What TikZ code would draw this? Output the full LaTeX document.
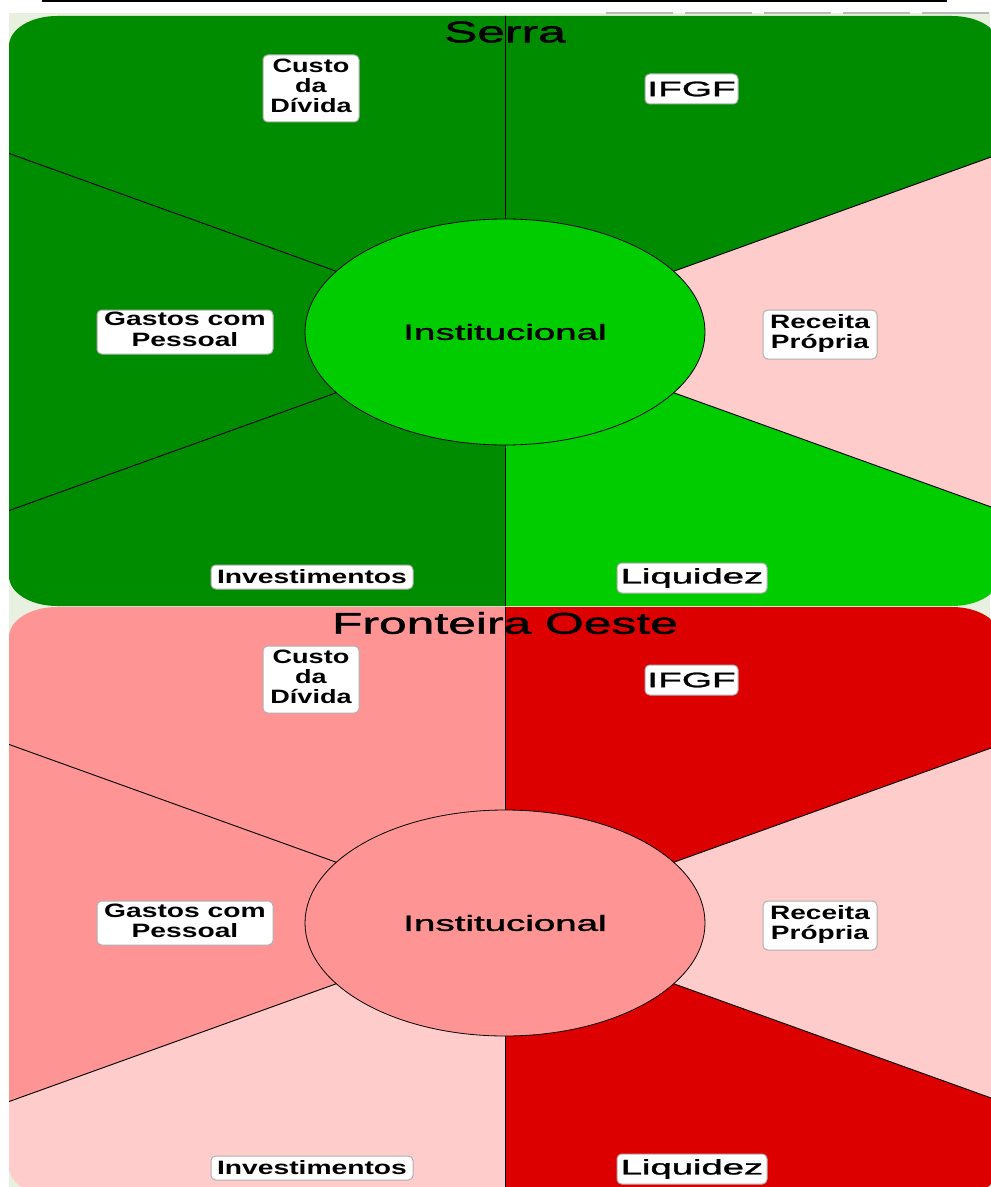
\documentclass[tikz,border=0pt]{standalone}
\usepackage{fontspec}
\setmainfont{Liberation Sans}
\newfontfamily\heavyfont[FakeBold=1.2]{Liberation Sans}
\usetikzlibrary{shapes.geometric}

\definecolor{pagebg}{RGB}{232,240,224}
\definecolor{darkgreen}{RGB}{0,140,0}
\definecolor{brightgreen}{RGB}{0,204,0}
\definecolor{lightpink}{RGB}{255,204,204}
\definecolor{salmon}{RGB}{255,148,148}
\definecolor{strongred}{RGB}{221,0,0}
\definecolor{boxedge}{RGB}{175,175,175}
\definecolor{rulegray}{RGB}{185,185,185}

% horizontally widened text
\newcommand\wide[2]{\scalebox{#1}[1]{#2}}
\newcommand\stacked[1]{\begin{tabular}{@{}c@{}}#1\end{tabular}}

% outline of one indicator panel (pixel units, y downwards)
\newcommand\panelpath{(9,46) .. controls (9,29.4) and (30.5,16) .. (57,16)
  -- (952,16) .. controls (978.5,16) and (1000,29.4) .. (1000,46)
  -- (1000,576) .. controls (1000,592.6) and (978.5,606) .. (952,606)
  -- (57,606) .. controls (30.5,606) and (9,592.6) .. (9,576) -- cycle}

\newcommand\lblfont{\bfseries\fontsize{14.5}{15}\selectfont}
\newcommand\bigfont{\heavyfont\fontsize{15.75}{17}\selectfont}

% one panel: six indicator sectors around the central ellipse
\newcommand\indicatorpanel[1]{%
  \begin{scope}
    \clip \panelpath;
    \fill[wCusto]   (505,332) -- (505,-1000) -- (-495,-1000) -- (-495,-28) -- cycle;
    \fill[wIFGF]    (505,332) -- (505,-1000) -- (1505,-1000) -- (1505,-28) -- cycle;
    \fill[wReceita] (505,332) -- (1505,-28) -- (1505,692) -- cycle;
    \fill[wLiq]     (505,332) -- (1505,692) -- (1505,1700) -- (505,1700) -- cycle;
    \fill[wInv]     (505,332) -- (505,1700) -- (-495,1700) -- (-495,692) -- cycle;
    \fill[wGastos]  (505,332) -- (-495,692) -- (-495,-28) -- cycle;
    \draw[sepline] (505,332) -- (505,-1000);
    \draw[sepline] (505,332) -- (505,1700);
    \draw[sepline] (505,332) -- (-495,-28);
    \draw[sepline] (505,332) -- (1505,-28);
    \draw[sepline] (505,332) -- (-495,692);
    \draw[sepline] (505,332) -- (1505,692);
  \end{scope}
  \node[ellipse, draw=black, line width=0.6pt, fill=wCentre, inner sep=0pt,
        minimum width=300pt, minimum height=169.5pt] (centre) at (505,332)
        {\heavyfont\fontsize{16.5}{18}\selectfont\wide{1.75}{Institucional}};
  \node[inner sep=0pt] (title) at (505,32)
        {\heavyfont\fontsize{22.5}{24}\selectfont\wide{1.66}{#1}};
  \node[lbl, minimum width=72pt, minimum height=50.25pt] (custo) at (311,88.5)
        {\lblfont\wide{1.4}{\stacked{Custo\\da\\Dívida}}};
  \node[lbl, minimum width=69.75pt, minimum height=22.5pt] (ifgf) at (691.5,89)
        {\bigfont\wide{1.85}{IFGF}};
  \node[lbl, minimum width=132pt, minimum height=33pt] (gastos) at (185,332)
        {\lblfont\wide{1.46}{\stacked{Gastos com\\Pessoal}}};
  \node[lbl, minimum width=85.5pt, minimum height=36.75pt] (receita) at (820,334.5)
        {\lblfont\wide{1.45}{\stacked{Receita\\Própria}}};
  \node[lbl, minimum width=151.5pt, minimum height=18pt] (invest) at (312,577)
        {\lblfont\wide{1.46}{Investimentos}};
  \node[lbl, minimum width=112.5pt, minimum height=22.5pt] (liquidez) at (692,578)
        {\bigfont\wide{1.82}{Liquidez}};
}

\begin{document}
\begin{tikzpicture}[x=0.75pt, y=-0.75pt,
    sepline/.style={draw=black, line width=0.7pt},
    lbl/.style={draw=boxedge, line width=0.75pt, fill=white,
                rounded corners=3.5pt, inner sep=0pt}]
  \useasboundingbox (0,0) rectangle (990,1187);
  \fill[white] (0,0) rectangle (990,1187);
  \fill[pagebg] (9,13) rectangle (990,1187);

  % rules above the panels
  \draw[line width=1.5pt] (42,1) -- (947,1);
  \draw[rulegray, line width=0.9pt, dash pattern=on 50.25pt off 9pt] (606,13) -- (990,13);

  % Serra
  \begin{scope}[name prefix=serra-]
    \colorlet{wCusto}{darkgreen}
    \colorlet{wIFGF}{darkgreen}
    \colorlet{wReceita}{lightpink}
    \colorlet{wLiq}{brightgreen}
    \colorlet{wInv}{darkgreen}
    \colorlet{wGastos}{darkgreen}
    \colorlet{wCentre}{brightgreen}
    \indicatorpanel{Serra}
  \end{scope}

  % Fronteira Oeste
  \begin{scope}[shift={(0,591)}, name prefix=fo-]
    \colorlet{wCusto}{salmon}
    \colorlet{wIFGF}{strongred}
    \colorlet{wReceita}{lightpink}
    \colorlet{wLiq}{strongred}
    \colorlet{wInv}{lightpink}
    \colorlet{wGastos}{salmon}
    \colorlet{wCentre}{salmon}
    \indicatorpanel{Fronteira Oeste}
  \end{scope}
\end{tikzpicture}
\end{document}
